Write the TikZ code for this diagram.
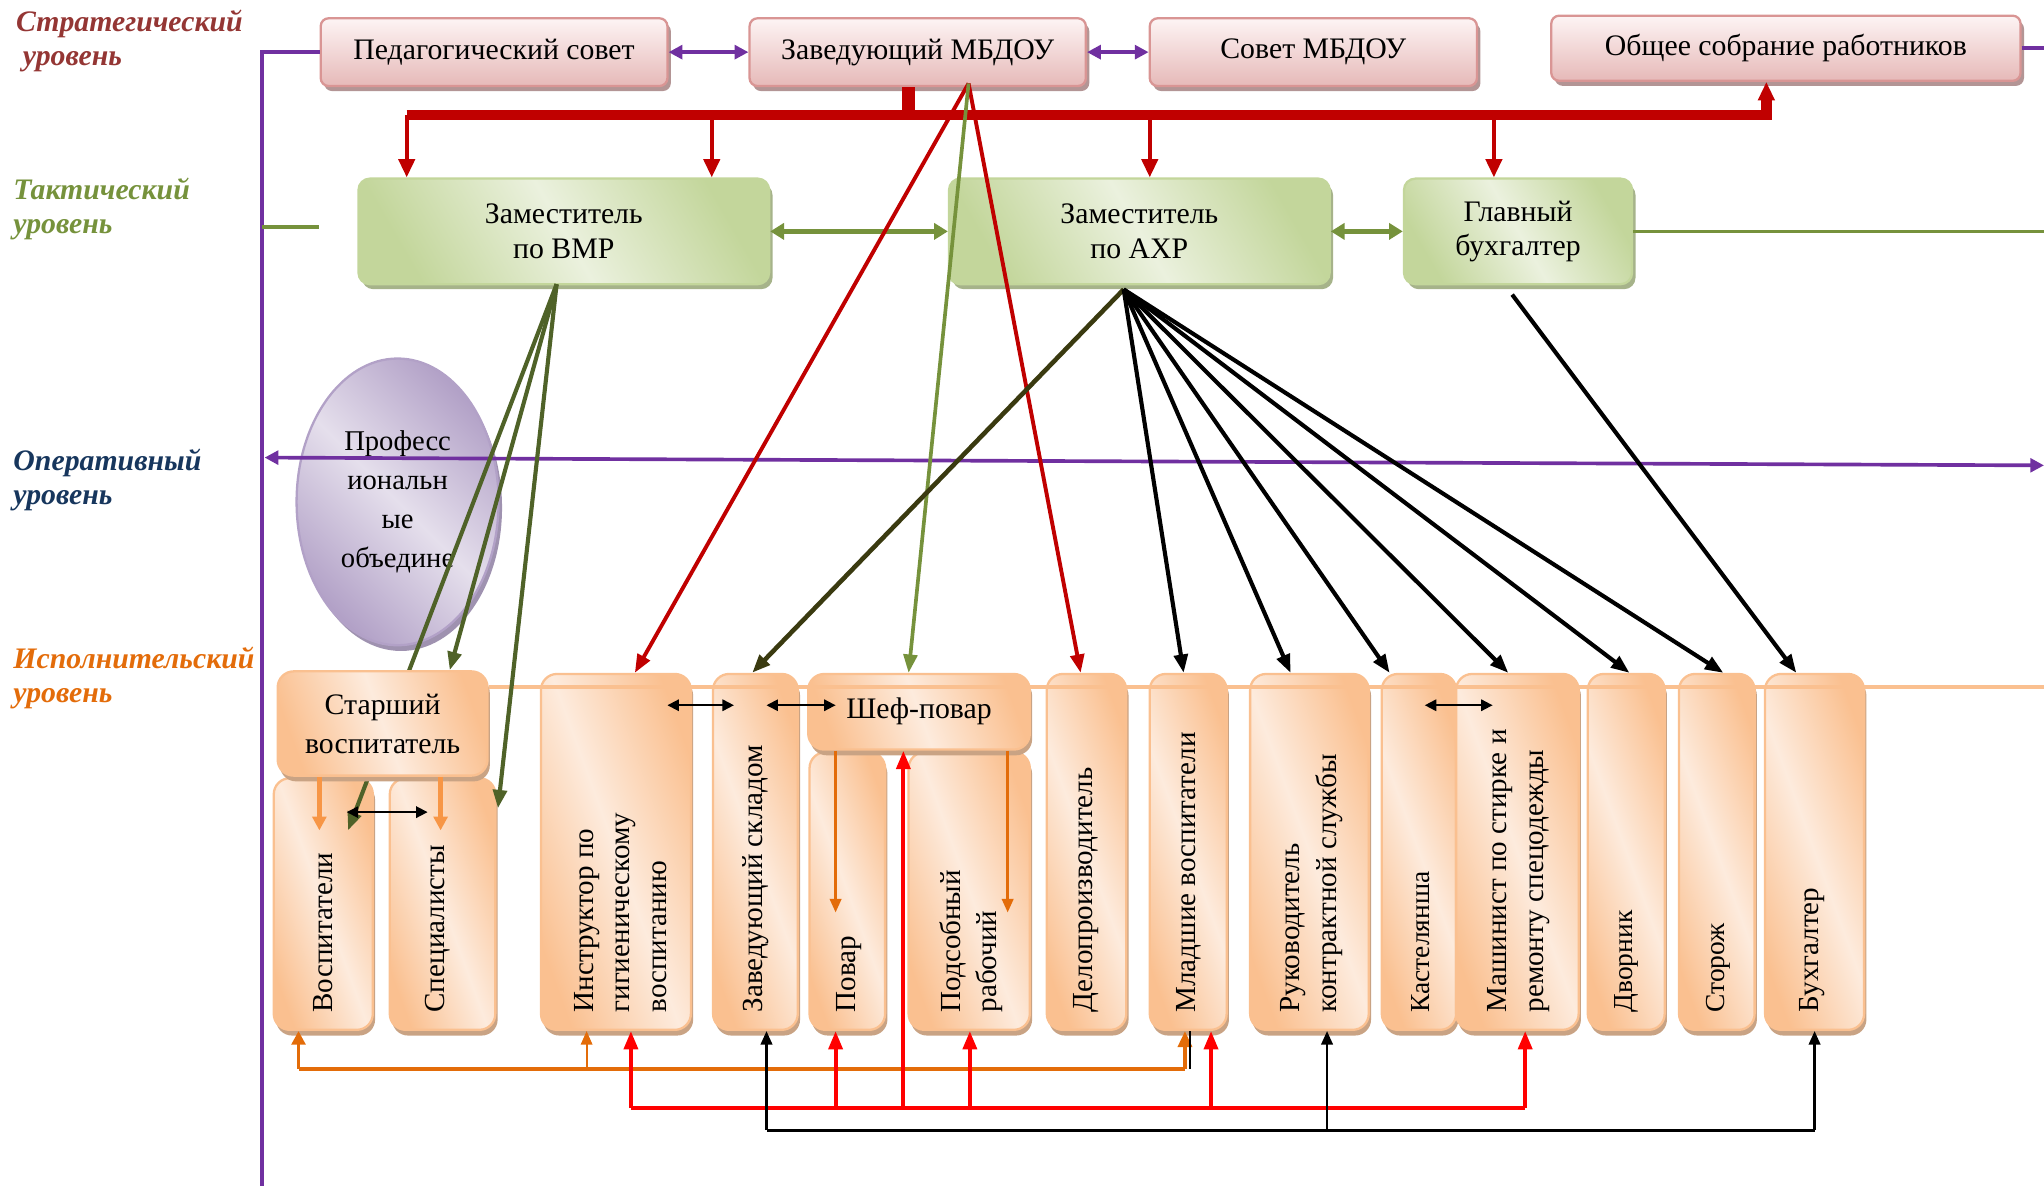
\documentclass[tikz,border=0pt]{standalone}
\usepackage{fontspec}
\setmainfont{Liberation Serif}
\usetikzlibrary{arrows.meta}
\usetikzlibrary{shadows}
\usetikzlibrary{fit}
\usetikzlibrary{shapes.geometric}

\definecolor{stratred}{HTML}{943634}
\definecolor{taktgreen}{HTML}{76923C}
\definecolor{operblue}{HTML}{17365D}
\definecolor{ispolorange}{HTML}{E36C0A}
\definecolor{frameviolet}{HTML}{7030A0}
\definecolor{busred}{HTML}{C00000}
\definecolor{brightred}{HTML}{FF0000}
\definecolor{vmrolive}{HTML}{4F6228}
\definecolor{axrolive}{HTML}{3A3A10}
\definecolor{peach}{HTML}{FAC090}
\definecolor{peachlight}{HTML}{FDEBDD}
\definecolor{peachshade}{HTML}{C9A384}
\definecolor{lightorange}{HTML}{F79646}
\definecolor{darkorange}{HTML}{E36C09}
\definecolor{pinkedge}{HTML}{D99594}
\definecolor{pinktop}{HTML}{FDF4F4}
\definecolor{pinkbot}{HTML}{E6B9B8}
\definecolor{pinkshade}{HTML}{B39595}
\definecolor{greenedge}{HTML}{C3D69B}
\definecolor{greenlight}{HTML}{EBF1DE}
\definecolor{greenmid}{HTML}{C3D69B}
\definecolor{greenshade}{HTML}{A6B38A}
\definecolor{violetlight}{HTML}{E5DFEC}
\definecolor{violetdark}{HTML}{B2A1C7}
\definecolor{violetshade}{HTML}{9F92B0}

\tikzset{
  lvl/.style={anchor=north west, inner sep=0pt, align=left,
    font=\fontsize{13}{15}\selectfont\bfseries\itshape},
  pinkbox/.style={draw=pinkedge, line width=1pt, rounded corners=3.5pt,
    top color=pinktop, bottom color=pinkbot, inner sep=0pt,
    drop shadow={shadow xshift=1.5pt, shadow yshift=-2.2pt, fill=pinkshade, opacity=1}},
  greenbox/.style={draw=greenedge, line width=1pt, rounded corners=5pt,
    left color=greenmid, right color=greenmid, middle color=greenlight,
    shading angle=120, inner sep=0pt,
    drop shadow={shadow xshift=1.5pt, shadow yshift=-2.2pt, fill=greenshade, opacity=1}},
  peachbox/.style={draw=peach, line width=1pt, rounded corners=7pt,
    left color=peach, right color=peach, middle color=peachlight,
    shading angle=110, inner sep=0pt,
    drop shadow={shadow xshift=1pt, shadow yshift=-2.5pt, fill=peachshade, opacity=1}},
  profell/.style={ellipse, draw=violetdark, line width=1pt, inner sep=0pt,
    minimum width=3.1cm, minimum height=4.4cm,
    left color=violetdark, right color=violetdark, middle color=violetlight,
    shading angle=135, align=center, font=\fontsize{12.5}{17}\selectfont,
    drop shadow={shadow xshift=1.5pt, shadow yshift=-2.5pt, fill=violetshade, opacity=1}},
  htxt/.style={align=center, inner sep=0pt, font=\fontsize{13}{15}\selectfont},
  vtxt/.style={rotate=90, anchor=west, align=left, inner sep=0pt,
    font=\fontsize{12.7}{16}\selectfont},
  violetln/.style={draw=frameviolet, line width=1.6pt},
  violetarr/.style={violetln, {Triangle[length=6pt,width=6pt]}-{Triangle[length=6pt,width=6pt]}},
  greenln/.style={draw=taktgreen, line width=1.5pt},
  greenarr/.style={draw=taktgreen, line width=2.2pt, {Triangle[length=6pt,width=7pt]}-{Triangle[length=6pt,width=7pt]}},
  redbus/.style={draw=busred, line width=4.5pt},
  redarr/.style={draw=busred, line width=1.8pt, -{Triangle[length=8pt,width=7pt]}},
  redln/.style={draw=busred, line width=1.7pt, -{Triangle[length=8pt,width=6pt]}},
  greenthin/.style={draw=taktgreen, line width=1.6pt, -{Triangle[length=8pt,width=6pt]}},
  oliveln/.style={draw=vmrolive, line width=1.8pt, -{Triangle[length=8pt,width=6pt]}},
  axrln/.style={draw=axrolive, line width=2pt, -{Triangle[length=8pt,width=6pt]}},
  blackarr/.style={draw=black, line width=1.8pt, -{Triangle[length=8pt,width=6pt]}},
  smallarr/.style={draw=black, line width=0.8pt, {Triangle[length=5pt,width=5pt]}-{Triangle[length=5pt,width=5pt]}},
  starorg/.style={draw=lightorange, line width=2pt, -{Triangle[length=6pt,width=6pt]}},
  sheforg/.style={draw=darkorange, line width=1.2pt, -{Triangle[length=6pt,width=5pt]}},
  orgbus/.style={draw=darkorange, line width=1.6pt},
  rbus/.style={draw=brightred, line width=1.8pt},
  kbus/.style={draw=black, line width=1.2pt},
  peachln/.style={draw=peach, line width=1.5pt}
}

\begin{document}
\begin{tikzpicture}[x=0.02cm, y=-0.02cm]
\useasboundingbox (0,0) rectangle (1568,910);

% levels
\node[lvl, text=stratred] (lvlstrat) at (12,7) {Стратегический\\\hspace*{3pt}уровень};
\node[lvl, text=taktgreen] (lvltakt) at (10,136) {Тактический\\уровень};
\node[lvl, text=operblue] (lvloper) at (10,344) {Оперативный\\уровень};
\node[lvl, text=ispolorange] (lvlispol) at (10,496) {Исполнительский\\уровень};

\coordinate (frameT) at (201,40);
\coordinate (frameB) at (201,910);
\coordinate (rimR) at (1568,0);
\coordinate (taktA) at (201,174);
\coordinate (taktB) at (245,174);
\coordinate (operL) at (203,351);
\coordinate (operR) at (1568,357);

% strategic level
\node[pinkbox, fit={(246,14) (512,66)}] (pedsov) {};
\node[pinkbox, fit={(575,14) (833,66)}] (zav) {};
\node[pinkbox, fit={(882,14) (1133,66)}] (sovet) {};
\node[pinkbox, fit={(1190,12) (1550,62)}] (obsh) {};
\node[htxt] (pedsovT) at (pedsov.center) {Педагогический совет};
\node[htxt] (zavT) at (zav.center) {Заведующий МБДОУ};
\node[htxt] (sovetT) at (sovet.center) {Совет МБДОУ};
\node[htxt] (obshT) at (obsh.center) {Общее собрание работников};

% tactical level
\node[greenbox, fit={(275,137) (590,218)}] (vmr) {};
\node[greenbox, fit={(728,137) (1020,218)}] (axr) {};
\node[greenbox, fit={(1077,137) (1252,218)}] (glav) {};
\node[htxt] (vmrT) at (vmr.center) {Заместитель\\по ВМР};
\node[htxt] (axrT) at (axr.center) {Заместитель\\по АХР};
\node[htxt] (glavT) at (glav.center) {Главный\\бухгалтер};

\node[profell] (prof) at (305,385) {Професс\\иональн\\ые\\объедине};

\draw[violetln] (pedsov.west) -- (frameT) -- (frameB);
\draw[violetln] (obsh.east) -- (obsh.east -| rimR);
\draw[violetarr] (pedsov.east) -- (zav.west);
\draw[violetarr] (zav.east) -- (sovet.west);
\draw[violetarr] (operR) -- (operL);

\draw[greenln] (taktA) -- (taktB);
\draw[greenln] (glav.east) -- (glav.east -| rimR);
\draw[greenarr] (vmr.east) -- (axr.west);
\draw[greenarr] (axr.east) -- (glav.west);

% red bus
\coordinate (busL) at (312,88);
\coordinate (busM) at (697,88);
\coordinate (busR) at (1355,88);
\coordinate (busUp) at (1355,72);
\draw[redbus, line width=6pt] (zav.south -| busM) -- (busM);
\draw[redbus] (busL) -- (busR) -- (busUp);
\draw[redarr] (busR) -- (obsh.south -| busR);
\foreach \t/\xx in {vmr/312, vmr/546, axr/882, glav/1146}
  \draw[redarr] (busL -| \xx,0) -- (\t.north -| \xx,0);

% executive level
\node[peachbox, fit={(210,597) (286,790)}] (vosp) {};
\node[peachbox, fit={(299,597) (380,790)}] (spec) {};

\coordinate (vmrTip) at (427,218);
\coordinate (vospIn) at (267,637);
\coordinate (specIn) at (382,620);
\draw[oliveln] (vmrTip) -- (vospIn);

\node[peachbox, fit={(213,515) (374,595)}] (star) {};
\node[peachbox, fit={(415,517) (530,790)}] (instr) {};
\node[peachbox, fit={(547,517) (612,790)}] (zavsk) {};
\node[peachbox, fit={(621,577) (679,790)}] (povar) {};
\node[peachbox, fit={(697,577) (790,790)}] (podsob) {};
\node[peachbox, fit={(620,517) (790,575)}] (shef) {};
\node[peachbox, fit={(803,517) (864,790)}] (delo) {};
\node[peachbox, fit={(882,517) (941,790)}] (mlad) {};
\node[peachbox, fit={(959,517) (1050,790)}] (ruk) {};
\node[peachbox, fit={(1060,517) (1117,790)}] (kast) {};
\node[peachbox, fit={(1117,517) (1211,790)}] (mash) {};
\node[peachbox, fit={(1218,517) (1277,790)}] (dvor) {};
\node[peachbox, fit={(1288,517) (1346,790)}] (stor) {};
\node[peachbox, fit={(1354,517) (1430,790)}] (buh) {};

\node[htxt, font=\fontsize{13}{17}\selectfont] (starT) at (star.center) {Старший\\воспитатель};
\node[htxt] (shefT) at (shef.center) {Шеф-повар};
\node[vtxt] (vospT) at (248,777) {Воспитатели};
\node[vtxt] (specT) at (336,777) {Специалисты};
\node[vtxt] (instrT) at (476,777) {Инструктор по\\гигиеническому\\воспитанию};
\node[vtxt] (zavskT) at (580,777) {Заведующий складом};
\node[vtxt] (povarT) at (651,777) {Повар};
\node[vtxt] (podsobT) at (745,777) {Подсобный\\рабочий};
\node[vtxt] (deloT) at (833,777) {Делопроизводитель};
\node[vtxt] (mladT) at (912,777) {Младшие воспитатели};
\node[vtxt] (rukT) at (1006,777) {Руководитель\\контрактной службы};
\node[vtxt, font=\fontsize{12}{15}\selectfont] (kastT) at (1090,777) {Кастелянша};
\node[vtxt] (mashT) at (1165,777) {Машинист по стирке и\\ремонту спецодежды};
\node[vtxt, font=\fontsize{12}{15}\selectfont] (dvorT) at (1248,777) {Дворник};
\node[vtxt, font=\fontsize{12}{15}\selectfont] (storT) at (1318,777) {Сторож};
\node[vtxt] (buhT) at (1390,777) {Бухгалтер};

\coordinate (peachR) at (1568,527);
\draw[peachln] (star.east |- peachR) -- (peachR);

% from the head
\coordinate (zavTip) at (743,64);
\draw[redln] (zavTip) -- (instr.north -| 487,0);
\draw[redln] (zavTip) -- (delo.north -| 829,0);
\draw[greenthin] (zavTip) -- (shef.north -| 697,0);

% from the deputies
\draw[oliveln] (vmrTip) -- (star.north -| 345,0);
\draw[oliveln] (vmrTip) -- (specIn);

\coordinate (axrTip) at (862,222);
\draw[axrln] (axrTip) -- (zavsk.north -| 577,0);
\foreach \t/\xx in {mlad/908, ruk/990, kast/1066, mash/1157, dvor/1250, stor/1322}
  \draw[blackarr] (axrTip) -- (\t.north -| \xx,0);
\coordinate (glavTip) at (1160,226);
\draw[blackarr] (glavTip) -- (buh.north -| 1378,0);

% inside the executive level
\coordinate (starV) at (245,637);
\coordinate (starS) at (338,637);
\draw[starorg] (star.south -| starV) -- (starV);
\draw[starorg] (star.south -| starS) -- (starS);
\coordinate (shefP) at (641,700);
\coordinate (shefR) at (773,700);
\draw[sheforg] (shef.south -| shefP) -- (shefP);
\draw[sheforg] (shef.south -| shefR) -- (shefR);

\coordinate (pairA) at (266,623);
\coordinate (pairB) at (328,623);
\coordinate (pairC) at (512,541);
\coordinate (pairD) at (563,541);
\coordinate (pairE) at (588,541);
\coordinate (pairF) at (641,541);
\coordinate (pairG) at (1093,541);
\coordinate (pairH) at (1145,541);
\draw[smallarr] (pairA) -- (pairB);
\draw[smallarr] (pairC) -- (pairD);
\draw[smallarr] (pairE) -- (pairF);
\draw[smallarr] (pairG) -- (pairH);

% lower links
\coordinate (obusL) at (229,820);
\coordinate (obusR) at (909,820);
\draw[orgbus] (obusL) -- (obusR);
\draw[orgbus, -{Triangle[length=6pt,width=6pt]}] (obusL) -- (vosp.south -| obusL);
\draw[orgbus, line width=0.9pt, -{Triangle[length=6pt,width=5pt]}] (obusL -| 450,0) -- (instr.south -| 450,0);
\draw[orgbus, line width=2pt, -{Triangle[length=7pt,width=6pt]}] (obusR) -- (mlad.south -| obusR);
\draw[kbus, line width=0.6pt] (obusR -| 913,0) -- (mlad.south -| 913,0);

\coordinate (rbusL) at (484,850);
\coordinate (rbusR) at (1170,850);
\draw[rbus] (rbusL) -- (rbusR);
\draw[rbus, -{Triangle[length=8pt,width=6pt]}] (rbusL) -- (instr.south -| rbusL);
\draw[rbus, -{Triangle[length=8pt,width=6pt]}] (rbusR) -- (mash.south -| rbusR);
\foreach \t/\xx in {povar/641, shef/693, podsob/744, mlad/929}
  \draw[rbus, -{Triangle[length=8pt,width=6pt]}] (rbusL -| \xx,0) -- (\t.south -| \xx,0);

\coordinate (kbusL) at (588,867);
\coordinate (kbusR) at (1392,867);
\draw[kbus] (kbusL) -- (kbusR);
\draw[kbus, -{Triangle[length=6pt,width=5pt]}] (kbusL) -- (zavsk.south -| kbusL);
\draw[kbus, -{Triangle[length=6pt,width=5pt]}] (kbusR) -- (buh.south -| kbusR);
\draw[kbus, -{Triangle[length=6pt,width=5pt]}] (kbusL -| 1018,0) -- (ruk.south -| 1018,0);

\end{tikzpicture}
\end{document}
